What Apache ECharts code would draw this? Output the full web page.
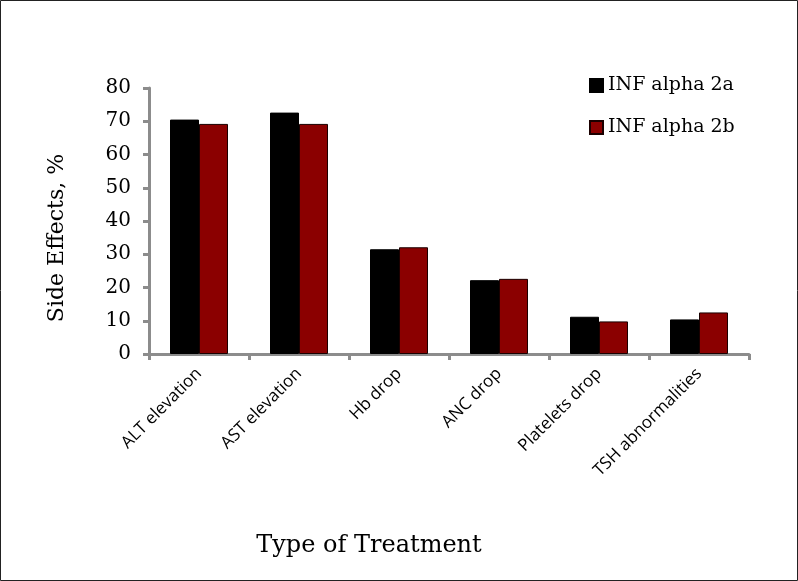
<!DOCTYPE html>
<html>
<head>
<meta charset="utf-8">
<script src="https://cdn.jsdelivr.net/npm/echarts@6/dist/echarts.min.js"></script>
<style>
html,body{margin:0;padding:0;background:#fff;}
#chart{width:798px;height:581px;}
</style>
</head>
<body>
<div id="chart"></div>
<script>
const categories = ['ALT elevation', 'AST elevation', 'Hb drop', 'ANC drop', 'Platelets drop', 'TSH abnormalities'];
const seriesNames = ['INF alpha 2a', 'INF alpha 2b'];
const alpha2a = [70.5, 72.6, 31.5, 22.2, 11.2, 10.4];
const alpha2b = [69.2, 69.2, 32.1, 22.6, 9.8, 12.5];
const yTicks = [0, 10, 20, 30, 40, 50, 60, 70, 80];
const xTitle = 'Type of Treatment';
const yTitle = 'Side Effects, %';

const chart = echarts.init(document.getElementById('chart'), null, {renderer: 'canvas'});
const serif = 'DejaVu Serif';
const axisGray = '#8c8c8c';
chart.setOption({
  animation: false,
  backgroundColor: '#fff',
  graphic: [
    {
      type: 'rect', z: 100, silent: true,
      shape: {x: 0.5, y: 0.5, width: 797, height: 580},
      style: {fill: 'none', stroke: '#222', lineWidth: 1}
    },
    {
      type: 'text', silent: true, x: 369, y: 546,
      style: {text: xTitle, font: '24px "DejaVu Serif"', fill: '#000', align: 'center', verticalAlign: 'middle'}
    },
    {
      type: 'text', silent: true, x: 57, y: 238, rotation: Math.PI / 2,
      style: {text: yTitle, font: '22px "DejaVu Serif"', fill: '#000', align: 'center', verticalAlign: 'middle'}
    }
  ],
  legend: {
    orient: 'vertical',
    left: 589, top: 76,
    padding: 0,
    itemWidth: 13, itemHeight: 13,
    itemGap: 23,
    icon: 'rect',
    textStyle: {fontFamily: serif, fontSize: 19, color: '#000', padding: [0, 0, 0, 0]},
    data: seriesNames
  },
  grid: {left: 149, right: 49, top: 88, bottom: 227, containLabel: false},
  xAxis: {
    type: 'category',
    data: categories,
    axisLine: {lineStyle: {color: axisGray, width: 3}},
    axisTick: {show: true, length: 6, lineStyle: {color: axisGray, width: 3}},
    axisLabel: {rotate: 45, margin: 17, fontFamily: 'Open Sans', fontSize: 17, color: '#000', interval: 0}
  },
  yAxis: {
    type: 'value',
    min: yTicks[0], max: yTicks[yTicks.length - 1], interval: 10,
    axisLine: {show: true, lineStyle: {color: axisGray, width: 3}},
    axisTick: {show: true, length: 6, lineStyle: {color: axisGray, width: 3}},
    splitLine: {show: false},
    axisLabel: {margin: 18, fontFamily: serif, fontSize: 20, color: '#000'}
  },
  series: [
    {
      name: seriesNames[0], type: 'bar', data: alpha2a,
      barGap: '0%', barCategoryGap: '42%',
      itemStyle: {color: '#000000', borderColor: '#000', borderWidth: 1}
    },
    {
      name: seriesNames[1], type: 'bar', data: alpha2b,
      itemStyle: {color: '#8b0000', borderColor: '#1a0000', borderWidth: 1}
    }
  ]
});
</script>
</body>
</html>
